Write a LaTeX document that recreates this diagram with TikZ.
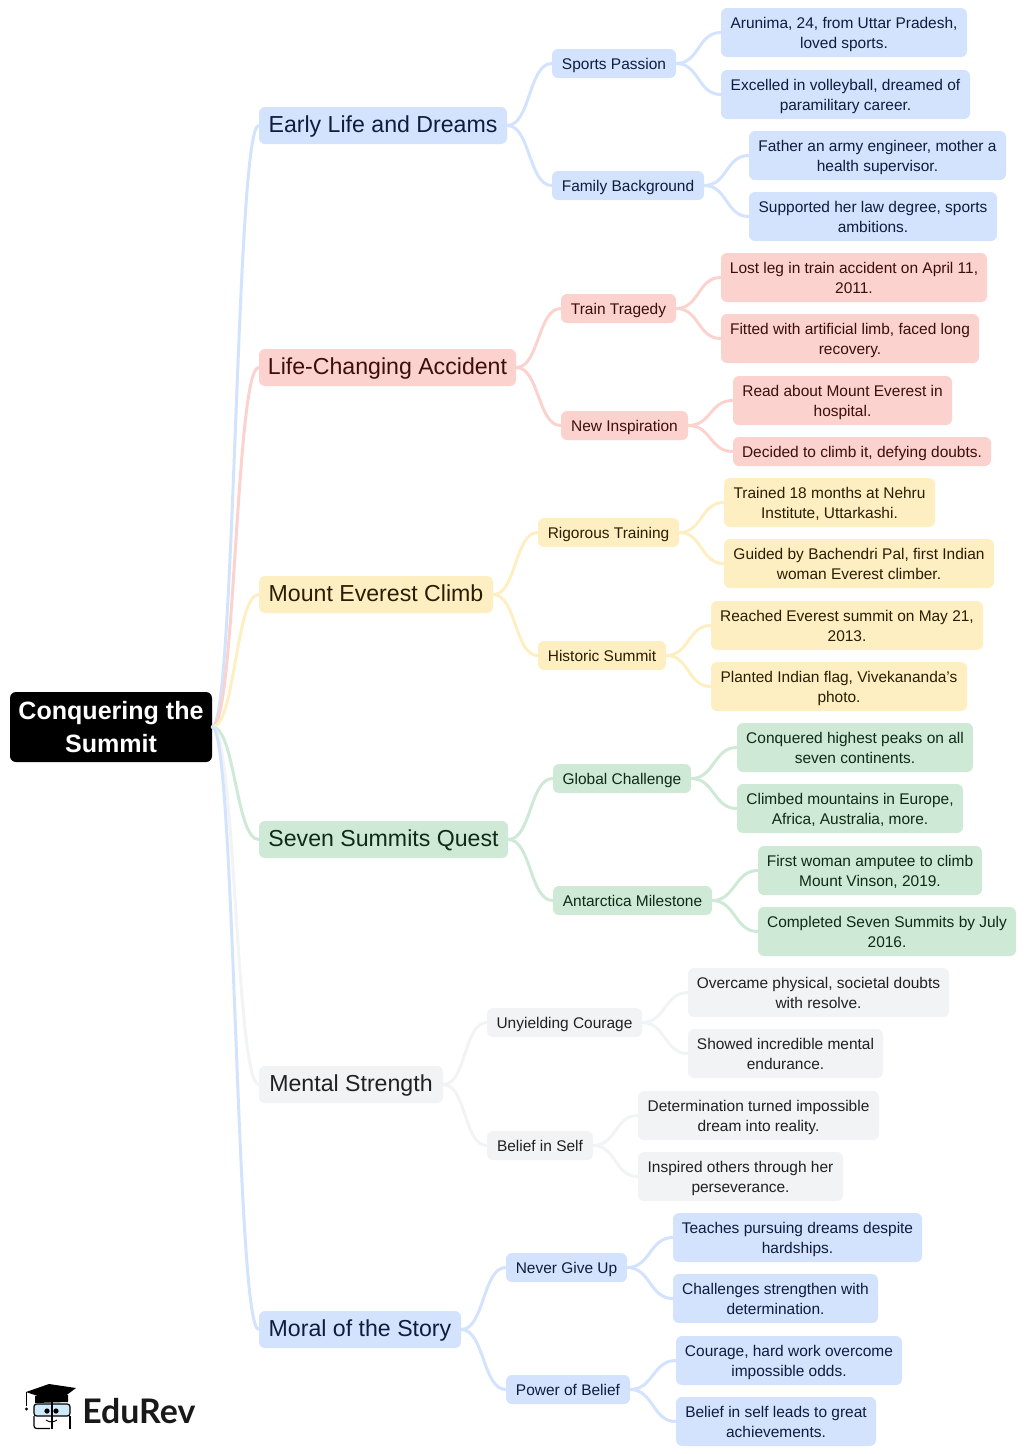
\documentclass[tikz,border=0pt]{standalone}
\usepackage{fontspec}
\setmainfont{Liberation Sans}
\newfontfamily\logofont{Lato}
\definecolor{bluebg}{HTML}{D3E3FD}\definecolor{bluefg}{HTML}{0F1C3F}
\definecolor{redbg}{HTML}{FBD2CE}\definecolor{redfg}{HTML}{3C0F0A}
\definecolor{yelbg}{HTML}{FEEFC3}\definecolor{yelfg}{HTML}{2A1E00}
\definecolor{grnbg}{HTML}{CEEAD6}\definecolor{grnfg}{HTML}{0D2B16}
\definecolor{graybg}{HTML}{F1F3F4}\definecolor{grayfg}{HTML}{202124}
\definecolor{lens}{HTML}{CFE8FA}
\tikzset{
 mm/.style={inner sep=0pt,rounded corners=4.5pt,execute at begin node={\def\nudge{#1}}},
 rootbox/.style={mm=-6.1pt,fill=black,text=white,font=\fontsize{18.8}{24.6}\bfseries\selectfont},
 big/.style={mm=-5.4pt,font=\fontsize{17.35}{22}\selectfont},
 mid/.style={mm=-4.1pt,font=\fontsize{11.6}{15.3}\selectfont},
 leaf/.style={mm=-4.2pt,font=\fontsize{11.6}{15.2}\selectfont},
 tblue/.style={fill=bluebg,text=bluefg},
 tred/.style={fill=redbg,text=redfg},
 tyel/.style={fill=yelbg,text=yelfg},
 tgrn/.style={fill=grnbg,text=grnfg},
 tgry/.style={fill=graybg,text=grayfg},
 link/.style={line width=2.25pt,line cap=round,out=0,in=180,distance=#1*0.75pt},
}
\newcommand\mn[7]{\node[#6,minimum width={(#4-#2)*0.75pt},minimum height={(#5-#3)*0.75pt}] (#1) at ({(#2+#4)/2},{(#3+#5)/2}) {\raisebox{\nudge}[0pt][0pt]{\begin{tabular}{@{}c@{}}#7\end{tabular}}};}
\begin{document}
\begin{tikzpicture}[x=0.75pt,y=-0.75pt]
\useasboundingbox (0,0) rectangle (1024,1454);
\mn{root}{10}{692}{212}{762}{rootbox}{Conquering the\\Summit}
\mn{a}{259}{107}{507}{144}{big,tblue}{Early Life and Dreams}
\mn{b}{259}{349}{516}{386}{big,tred}{Life-Changing Accident}
\mn{c}{259}{576}{493}{613}{big,tyel}{Mount Everest Climb}
\mn{d}{259}{821}{508}{858}{big,tgrn}{Seven Summits Quest}
\mn{e}{259}{1066}{443}{1103}{big,tgry}{Mental Strength}
\mn{f}{259}{1311}{461}{1348}{big,tblue}{Moral of the Story}
\mn{a1}{552}{49}{676}{78}{mid,tblue}{Sports Passion}
\mn{a2}{552}{171}{704}{200}{mid,tblue}{Family Background}
\mn{b1}{561}{294}{676}{323}{mid,tred}{Train Tragedy}
\mn{b2}{561}{411}{688}{440}{mid,tred}{New Inspiration}
\mn{c1}{538}{518}{679}{547}{mid,tyel}{Rigorous Training}
\mn{c2}{538}{641}{666}{670}{mid,tyel}{Historic Summit}
\mn{d1}{553}{764}{691}{793}{mid,tgrn}{Global Challenge}
\mn{d2}{553}{886}{712}{915}{mid,tgrn}{Antarctica Milestone}
\mn{e1}{487}{1008}{642}{1037}{mid,tgry}{Unyielding Courage}
\mn{e2}{487}{1131}{593}{1160}{mid,tgry}{Belief in Self}
\mn{f1}{506}{1253}{627}{1282}{mid,tblue}{Never Give Up}
\mn{f2}{506}{1375}{630}{1404}{mid,tblue}{Power of Belief}
\mn{a11}{721}{8}{967}{57}{leaf,tblue}{Arunima, 24, from Uttar Pradesh,\\loved sports.}
\mn{a12}{721}{70}{970}{119}{leaf,tblue}{Excelled in volleyball, dreamed of\\paramilitary career.}
\mn{a21}{749}{131}{1006}{180}{leaf,tblue}{Father an army engineer, mother a\\health supervisor.}
\mn{a22}{749}{192}{997}{241}{leaf,tblue}{Supported her law degree, sports\\ambitions.}
\mn{b11}{721}{253}{987}{302}{leaf,tred}{Lost leg in train accident on April 11,\\2011.}
\mn{b12}{721}{314}{979}{363}{leaf,tred}{Fitted with artificial limb, faced long\\recovery.}
\mn{b21}{733}{376}{952}{425}{leaf,tred}{Read about Mount Everest in\\hospital.}
\mn{b22}{733}{437}{991}{466}{mid,tred}{Decided to climb it, defying doubts.}
\mn{c11}{724}{478}{935}{527}{leaf,tyel}{Trained 18 months at Nehru\\Institute, Uttarkashi.}
\mn{c12}{724}{539}{994}{588}{leaf,tyel}{Guided by Bachendri Pal, first Indian\\woman Everest climber.}
\mn{c21}{711}{601}{983}{650}{leaf,tyel}{Reached Everest summit on May 21,\\2013.}
\mn{c22}{711}{662}{967}{711}{leaf,tyel}{Planted Indian flag, Vivekananda’s\\photo.}
\mn{d11}{737}{723}{973}{772}{leaf,tgrn}{Conquered highest peaks on all\\seven continents.}
\mn{d12}{737}{784}{963}{833}{leaf,tgrn}{Climbed mountains in Europe,\\Africa, Australia, more.}
\mn{d21}{758}{846}{982}{895}{leaf,tgrn}{First woman amputee to climb\\Mount Vinson, 2019.}
\mn{d22}{758}{907}{1016}{956}{leaf,tgrn}{Completed Seven Summits by July\\2016.}
\mn{e11}{688}{968}{949}{1017}{leaf,tgry}{Overcame physical, societal doubts\\with resolve.}
\mn{e12}{688}{1029}{883}{1078}{leaf,tgry}{Showed incredible mental\\endurance.}
\mn{e21}{638}{1091}{879}{1140}{leaf,tgry}{Determination turned impossible\\dream into reality.}
\mn{e22}{638}{1152}{843}{1201}{leaf,tgry}{Inspired others through her\\perseverance.}
\mn{f11}{673}{1213}{922}{1262}{leaf,tblue}{Teaches pursuing dreams despite\\hardships.}
\mn{f12}{673}{1274}{878}{1323}{leaf,tblue}{Challenges strengthen with\\determination.}
\mn{f21}{676}{1336}{902}{1385}{leaf,tblue}{Courage, hard work overcome\\impossible odds.}
\mn{f22}{676}{1397}{876}{1446}{leaf,tblue}{Belief in self leads to great\\achievements.}
% connectors
\foreach \p/\c in {a/bluebg,b/redbg,c/yelbg,d/grnbg,e/graybg,f/bluebg}{
  \draw[link=23,\c] (root.east) to (\p.west);
  \foreach \q in {1,2}{
    \draw[link=23,\c] (\p.east) to (\p\q.west);
    \foreach \r in {1,2}{\draw[link=23,\c] (\p\q.east) to (\p\q\r.west);}
  }
}
% logo
\node[font=\logofont\fontsize{25.4}{30}\bfseries\selectfont,text=black!90,anchor=base west,inner sep=0pt] (logo) at (82,1423) {EduRev};
\fill[black] (26,1392) -- (49,1384) -- (76,1388) -- (60,1400) -- (44,1398) -- cycle;
\fill[black] (35,1396) -- (68,1395) -- (68,1402) -- (35,1403) -- cycle;
\draw[black,line width=0.7pt] (26.5,1392) -- (26.5,1406);
\fill[black] (26.5,1409) circle (1.6);
\draw[black,line width=0.9pt,fill=lens,rounded corners=2pt] (34,1404) rectangle (70,1416);
\fill[black] (47,1411) circle (2.6) (56,1411) circle (2.6);
\draw[black,line width=0.9pt,rounded corners=2pt] (34,1416) -- (34,1428.5) -- (50,1428.5);
\draw[black,line width=0.9pt,rounded corners=2pt] (70,1416) -- (70,1428.5);
\draw[black,line width=0.9pt] (52,1400) -- (52,1429);
\draw[black,line width=0.7pt] (46,1420) .. controls (50,1423) and (54,1422) .. (57,1420);
\end{tikzpicture}
\end{document}
